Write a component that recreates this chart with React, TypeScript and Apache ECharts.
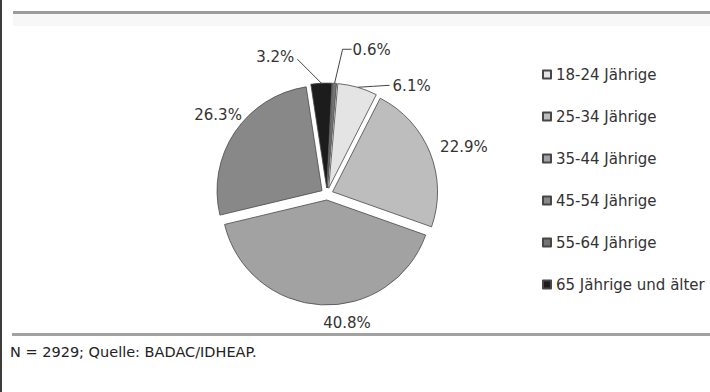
import { useEffect, useRef } from 'react';
import * as echarts from 'echarts';

// Age groups in legend order and their shares (%)
const ageGroups = [
  '18-24 Jährige',
  '25-34 Jährige',
  '35-44 Jährige',
  '45-54 Jährige',
  '55-64 Jährige',
  '65 Jährige und älter',
];
const shares = [6.1, 22.9, 40.8, 26.3, 0.6, 3.2];
// Clockwise order in which the slices are laid out (indices into ageGroups)
const sliceOrder = [0, 1, 2, 3, 5, 4];
const footnote = 'N = 2929; Quelle: BADAC/IDHEAP.';

const sliceColors = ['#e4e4e4', '#bdbdbd', '#a2a2a2', '#888888', '#747474', '#1c1c1c'];
const FONT = '"DejaVu Sans", Verdana, sans-serif';

const PIE_CENTER = [327, 194];
const PIE_RADIUS = 105;
const EXPLODE = 6;

// Where each value label sits, relative to the outer-edge point of its
// (exploded) slice, and the optional leader line drawn from that point.
type Placement = { dx: number; dy: number; align: 'left' | 'right'; line?: number[][] };
const labelPlacement: Record<string, Placement> = {
  '18-24 Jährige': { dx: 35, dy: -1, align: 'left', line: [[0, 0], [16, -1], [32, -2]] },
  '25-34 Jährige': { dx: 10, dy: -6, align: 'left' },
  '35-44 Jährige': { dx: 2, dy: 18, align: 'left' },
  '45-54 Jährige': { dx: 7, dy: -17, align: 'right' },
  '55-64 Jährige': { dx: 18, dy: -33, align: 'left', line: [[0, 0], [8, -34], [17, -34]] },
  '65 Jährige und älter': { dx: -27, dy: -26, align: 'right', line: [[0, 0], [-12, -12], [-24, -24]] },
};

export default function App() {
  const ref = useRef<HTMLDivElement>(null);

  useEffect(() => {
    if (!ref.current) return;
    const chart = echarts.init(ref.current, undefined, { renderer: 'svg' });

    // Exploded slices: every slice is selected and pushed outwards.
    const sliceData = sliceOrder.map((i) => ({
      name: ageGroups[i],
      value: shares[i],
      selected: true,
      itemStyle: { color: sliceColors[i] },
    }));

    // Invisible twin pie (radius = exploded outer edge) that carries the value labels.
    const labelData = sliceOrder.map((i) => {
      const name = ageGroups[i];
      return {
        name,
        value: shares[i],
        labelLine: { show: !!labelPlacement[name].line },
      };
    });

    chart.setOption({
      animation: false,
      backgroundColor: '#ffffff',
      legend: {
        orient: 'vertical',
        left: 537,
        top: 62,
        itemWidth: 8,
        itemHeight: 8,
        itemGap: 27,
        icon: 'rect',
        selectedMode: false,
        data: ageGroups,
        textStyle: { fontFamily: FONT, fontSize: 15, color: '#333333' },
      },
      series: [
        {
          type: 'pie',
          name: 'Anteil',
          center: PIE_CENTER,
          radius: PIE_RADIUS,
          startAngle: 85,
          clockwise: true,
          selectedMode: 'multiple',
          selectedOffset: EXPLODE,
          emphasis: { disabled: true },
          itemStyle: { borderColor: '#474747', borderWidth: 0.8 },
          label: { show: false },
          labelLine: { show: false },
          data: sliceData,
        },
        {
          type: 'pie',
          name: 'Beschriftung',
          center: PIE_CENTER,
          radius: PIE_RADIUS + EXPLODE,
          startAngle: 85,
          clockwise: true,
          silent: true,
          selectedMode: false,
          avoidLabelOverlap: false,
          emphasis: { disabled: true },
          itemStyle: { color: 'rgba(0,0,0,0)', borderWidth: 0 },
          label: {
            show: true,
            position: 'outside',
            distanceToLabelLine: 0,
            fontFamily: FONT,
            fontSize: 15,
            color: '#333333',
            formatter: (p: any) => `${Number(p.value).toFixed(1)}%`,
          },
          labelLine: {
            show: true,
            length: 0,
            length2: 0,
            lineStyle: { color: '#444444', width: 1 },
          },
          labelLayout: (params: any) => {
            const name = ageGroups[sliceOrder[params.dataIndex]];
            const pl = labelPlacement[name];
            const r = params.labelRect;
            const ax = params.align === 'right' ? r.x + r.width : r.x;
            const ay = r.y + r.height / 2;
            const out: any = {
              x: ax + pl.dx,
              y: ay + pl.dy,
              align: pl.align,
              verticalAlign: 'middle',
            };
            const p0 = params.labelLinePoints && params.labelLinePoints[0];
            if (pl.line && p0) {
              out.labelLinePoints = pl.line.map(([u, v]) => [p0[0] + u, p0[1] + v]);
            }
            return out;
          },
          data: labelData,
        },
      ],
      graphic: [
        { type: 'rect', shape: { x: 0, y: 0, width: 2, height: 392 }, style: { fill: '#3c3c3c' } },
        { type: 'rect', shape: { x: 13, y: 11, width: 697, height: 3 }, style: { fill: '#9c9c9c' } },
        { type: 'rect', shape: { x: 13, y: 14, width: 697, height: 12 }, style: { fill: '#f7f7f7' } },
        { type: 'rect', shape: { x: 12, y: 333, width: 698, height: 3 }, style: { fill: '#a2a2a2' } },
        {
          type: 'text',
          x: 10,
          y: 352,
          style: {
            text: footnote,
            font: `14.5px ${FONT}`,
            fill: '#222222',
            verticalAlign: 'middle',
          },
        },
      ],
    });

    return () => chart.dispose();
  }, []);

  return (
    <div
      ref={ref}
      style={{ position: 'absolute', left: 0, top: 0, width: 710, height: 392, background: '#fff' }}
    />
  );
}
